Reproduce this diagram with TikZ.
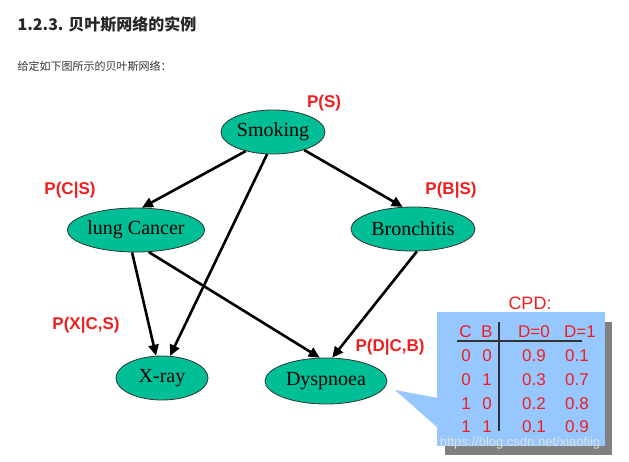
\documentclass[tikz,border=0pt]{standalone}
\usepackage{fontspec}
\setmainfont{Liberation Serif}
\newfontfamily\sans{Liberation Sans}
\newfontfamily\cjk{Noto Sans CJK SC}
\usetikzlibrary{shapes.geometric,arrows.meta}
\definecolor{teal1}{RGB}{0,190,150}
\definecolor{cred}{RGB}{240,30,30}
\definecolor{cblue}{RGB}{150,200,255}
\begin{document}
\begin{tikzpicture}[x=1pt,y=-1pt,
  bn/.style={ellipse,draw=black!80,line width=0.8pt,fill=teal1,inner sep=0pt,font=\fontsize{20}{22}\selectfont},
  lab/.style={text=cred,font=\sans\bfseries\fontsize{17}{18}\selectfont},
  arr/.style={-{Triangle[length=11pt,width=10pt]},line width=2.6pt},
  tab/.style={text=cred,font=\sans\fontsize{17}{18}\selectfont}]
\useasboundingbox (0,0) rectangle (629,461);
\node[anchor=west,font=\cjk\bfseries\fontsize{16}{18}\selectfont,text=black!85] (h) at (14,24) {1.2.3. 贝叶斯网络的实例};
\node[anchor=west,font=\cjk\fontsize{11}{13}\selectfont,text=black!80] (s) at (14,66) {给定如下图所示的贝叶斯网络：};
\node[bn,minimum width=104pt,minimum height=44pt] (S) at (273,132) {Smoking};
\node[bn,minimum width=132pt,minimum height=44pt] (C) at (136,230) {lung Cancer};
\node[bn,minimum width=124pt,minimum height=44pt] (B) at (413,229) {Bronchitis};
\node[bn,minimum width=92pt,minimum height=44pt] (X) at (162,378) {X-ray};
\node[bn,minimum width=122pt,minimum height=46pt] (D) at (326,381) {Dyspnoea};
\node[lab] (lS) at (324,103) {P(S)};
\node[lab] (lC) at (70,190) {P(C|S)};
\node[lab] (lB) at (451,190) {P(B|S)};
\node[lab] (lX) at (86,325) {P(X|C,S)};
\node[lab] (lD) at (390,347) {P(D|C,B)};
\draw[arr] (S.215) -- (C.75);
\draw[arr] (S.255) -- (X.70);
\draw[arr] (S.-30) -- (B.115);
\draw[arr] (C.-100) -- (X.105);
\draw[arr] (C.-60) -- (D.105);
\draw[arr] (B.-80) -- (D.75);
% callout
\fill[black!50] (445,322) rectangle (612,455);
\fill[cblue] (437,312) rectangle (605,446);
\fill[cblue] (395,390) -- (438,398) -- (438,428) -- cycle;
\node[tab,font=\sans\fontsize{18}{19}\selectfont] (cpd) at (530,303) {CPD:};
\coordinate (h1) at (457,341); \coordinate (h2) at (582,341);
\coordinate (v1) at (499,322); \coordinate (v2) at (499,431);
\draw[line width=1.3pt,black!80] (h1) -- (h2);
\draw[line width=1.3pt,black!80] (v1) -- (v2);
\node[tab] (t0) at (476,332) {C\ \ B};
\node[tab] (t1) at (534,332) {D=0};
\node[tab] (t2) at (580,332) {D=1};
\foreach \y/\a/\b/\c/\d [count=\i] in {356/0/0/0.9/0.1,380/0/1/0.3/0.7,404/1/0/0.2/0.8,427/1/1/0.1/0.9}{
  \node[tab] (ra\i) at (466,\y) {\a};
  \node[tab] (rb\i) at (487,\y) {\b};
  \node[tab] (rc\i) at (534,\y) {\c};
  \node[tab] (rd\i) at (577,\y) {\d};
}
\node[text=white!75!gray,font=\sans\fontsize{13}{14}\selectfont] (wm) at (520,443) {https://blog.csdn.net/xiaofiig};
\end{tikzpicture}
\end{document}
